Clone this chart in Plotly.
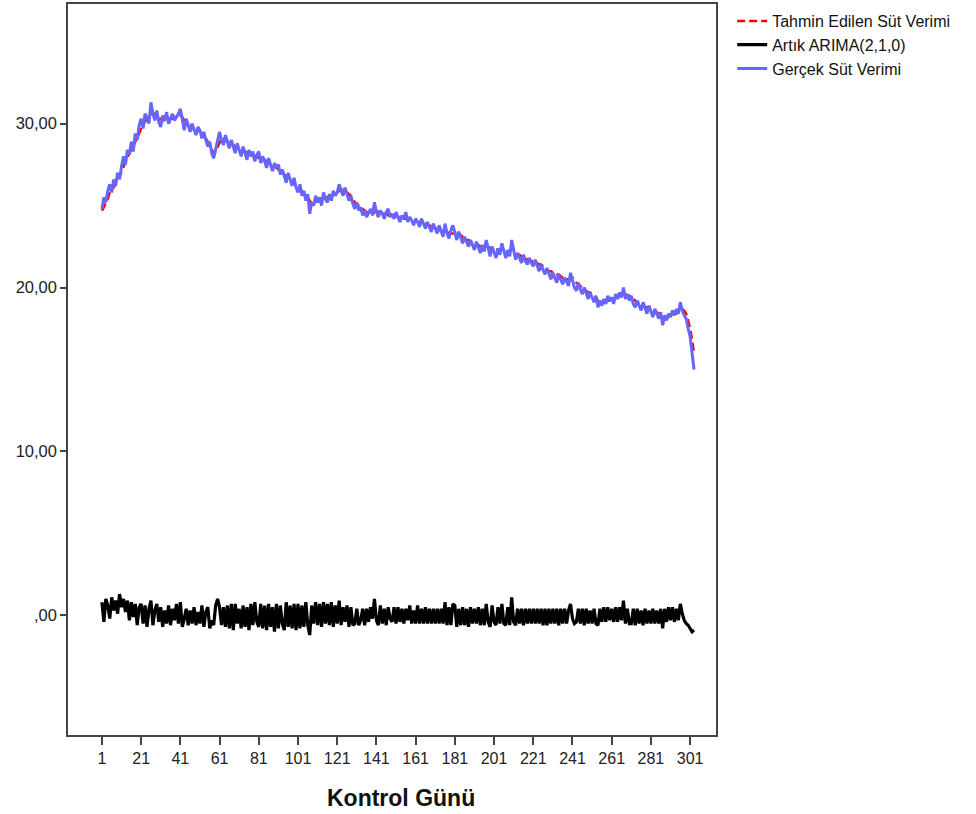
import plotly.graph_objects as go

actual = [
24.8, 25.5, 25.2, 25.9, 26.3, 25.8, 26.6, 26.2, 27.0, 26.6,
27.4, 28.0, 27.5, 28.4, 28.1, 28.9, 28.3, 29.4, 29.0, 29.9,
30.3, 29.7, 30.6, 30.4, 30.0, 31.3, 30.6, 30.2, 30.8, 30.1,
29.8, 30.5, 30.2, 30.7, 30.0, 30.3, 30.6, 30.2, 30.4, 30.6,
30.9, 30.1, 29.6, 30.3, 29.9, 29.5, 30.0, 29.7, 29.3, 29.8,
29.6, 29.1, 29.5, 29.0, 28.6, 28.9, 28.2, 27.9, 28.4, 28.9,
29.5, 29.0, 28.7, 29.3, 28.9, 28.5, 29.0, 28.6, 28.2, 28.8,
28.4, 28.0, 28.6, 28.2, 27.8, 28.4, 28.0, 28.3, 27.7, 28.1,
28.3, 27.6, 28.0, 27.7, 27.3, 27.9, 27.5, 27.1, 27.6, 27.3,
27.5, 26.9, 27.2, 26.8, 26.4, 27.0, 26.6, 26.2, 26.7, 26.1,
25.8, 26.3, 25.6, 25.9, 25.3, 25.7, 24.5, 25.2, 25.0, 25.6,
25.2, 25.5, 25.0, 25.8, 25.4, 25.2, 25.7, 25.3, 25.9, 25.6,
25.8, 26.3, 25.9, 25.6, 26.1, 25.7, 25.3, 25.6, 25.1, 24.8,
25.2, 24.7, 24.9, 24.4, 24.7, 24.3, 24.6, 24.8, 24.4, 25.2,
24.6, 24.3, 24.7, 24.5, 24.2, 24.6, 24.8, 24.3, 24.5, 24.2,
24.6, 24.3, 24.0, 24.4, 24.2, 24.6, 24.0, 24.3, 24.1, 23.8,
24.2, 24.0, 23.7, 24.2, 23.9, 23.6, 24.0, 23.7, 23.4, 23.9,
23.6, 23.3, 23.8, 23.4, 23.1, 23.9, 23.3, 23.0, 23.5, 23.8,
23.3, 22.9, 23.4, 23.0, 22.7, 23.1, 22.8, 22.5, 22.9, 22.6,
22.3, 22.8, 22.4, 22.1, 22.6, 22.2, 22.9, 22.4, 21.9, 22.5,
22.2, 21.8, 22.4, 22.0, 22.7, 22.2, 21.8, 22.3, 21.9, 22.9,
22.2, 21.7, 22.1, 21.8, 21.5, 22.0, 21.6, 21.4, 21.8, 21.5,
21.3, 21.7, 21.4, 21.0, 21.4, 21.1, 20.8, 21.2, 20.8, 20.5,
20.9, 20.6, 20.3, 20.8, 20.5, 20.2, 20.6, 20.3, 20.1, 20.9,
20.4, 20.0, 19.8, 20.3, 19.9, 19.6, 20.0, 19.6, 19.3, 19.7,
19.4, 19.1, 19.5, 18.8, 19.2, 18.9, 19.3, 19.0, 19.5, 19.2,
19.4, 19.0, 19.6, 19.3, 19.7, 19.4, 20.0, 19.3, 19.6, 19.2,
19.5, 19.0, 18.8, 19.2, 18.9, 18.6, 19.1, 18.7, 18.4, 18.9,
18.5, 18.2, 18.7, 18.4, 18.1, 18.5, 17.7, 18.3, 18.0, 18.4,
18.2, 18.6, 18.3, 18.7, 18.4, 19.1, 18.6, 18.3, 18.1, 17.5,
17.0, 16.0, 15.0,
]

predicted = [
24.7, 24.9, 25.2, 25.4, 25.8, 26.0, 26.1, 26.4, 26.6, 26.8,
27.1, 27.4, 27.7, 27.9, 28.2, 28.4, 28.6, 28.9, 29.1, 29.4,
29.7, 30.0, 30.1, 30.3, 30.4, 30.6, 30.7, 30.5, 30.4, 30.3,
30.3, 30.2, 30.2, 30.3, 30.3, 30.3, 30.3, 30.4, 30.4, 30.5,
30.5, 30.4, 30.2, 30.0, 29.9, 29.8, 29.7, 29.7, 29.6, 29.6,
29.5, 29.4, 29.3, 29.1, 28.9, 28.7, 28.4, 28.2, 28.3, 28.6,
28.9, 29.1, 29.1, 29.0, 28.9, 28.8, 28.8, 28.7, 28.6, 28.5,
28.5, 28.4, 28.3, 28.3, 28.2, 28.1, 28.1, 28.0, 28.0, 28.0,
27.9, 27.9, 27.8, 27.8, 27.7, 27.6, 27.6, 27.5, 27.4, 27.3,
27.2, 27.2, 27.1, 26.9, 26.8, 26.7, 26.6, 26.5, 26.4, 26.2,
26.1, 26.0, 25.9, 25.7, 25.6, 25.5, 25.3, 25.1, 25.1, 25.2,
25.3, 25.3, 25.4, 25.4, 25.5, 25.5, 25.6, 25.6, 25.7, 25.7,
25.8, 25.9, 26.0, 26.0, 25.9, 25.8, 25.7, 25.6, 25.4, 25.2,
25.1, 25.0, 24.9, 24.8, 24.7, 24.6, 24.6, 24.5, 24.5, 24.6,
24.7, 24.6, 24.5, 24.5, 24.5, 24.5, 24.4, 24.5, 24.4, 24.4,
24.4, 24.3, 24.3, 24.3, 24.2, 24.2, 24.2, 24.2, 24.2, 24.1,
24.1, 24.0, 24.0, 24.0, 23.9, 23.9, 23.8, 23.8, 23.7, 23.7,
23.6, 23.6, 23.5, 23.5, 23.4, 23.4, 23.4, 23.3, 23.3, 23.3,
23.4, 23.4, 23.3, 23.2, 23.1, 23.0, 22.9, 22.9, 22.8, 22.7,
22.7, 22.6, 22.6, 22.5, 22.5, 22.4, 22.5, 22.5, 22.4, 22.3,
22.4, 22.3, 22.3, 22.3, 22.3, 22.4, 22.3, 22.2, 22.2, 22.3,
22.3, 22.2, 22.0, 22.0, 21.9, 21.9, 21.8, 21.7, 21.7, 21.6,
21.6, 21.5, 21.5, 21.4, 21.4, 21.3, 21.2, 21.1, 21.0, 21.0,
20.9, 20.9, 20.8, 20.8, 20.7, 20.6, 20.6, 20.5, 20.5, 20.6,
20.6, 20.5, 20.3, 20.2, 20.1, 20.0, 19.9, 19.8, 19.7, 19.7,
19.6, 19.5, 19.4, 19.2, 19.1, 19.0, 19.1, 19.1, 19.2, 19.2,
19.3, 19.3, 19.4, 19.4, 19.5, 19.5, 19.6, 19.6, 19.5, 19.5,
19.4, 19.3, 19.2, 19.1, 19.0, 19.0, 18.9, 18.8, 18.8, 18.7,
18.6, 18.6, 18.5, 18.5, 18.4, 18.4, 18.2, 18.1, 18.1, 18.2,
18.3, 18.3, 18.4, 18.4, 18.5, 18.6, 18.7, 18.6, 18.4, 18.0,
17.5, 16.8, 16.0,
]

residual = [
0.8, -0.4, 1.0, 0.6, -0.2, 1.1, 0.3, 0.9, 0.1, 1.3,
0.5, 1.0, 0.2, 0.9, -0.3, 0.8, -0.1, 0.7, -0.6, 0.5,
0.7, -0.5, 0.6, -0.7, 0.4, 0.9, -0.6, 0.3, 0.7, -0.4,
0.5, -0.7, 0.3, -0.5, 0.6, -0.6, 0.4, -0.3, 0.7, -0.5,
0.8, -0.7, -0.2, 0.4, -0.6, 0.3, -0.5, 0.5, -0.6, 0.2,
-0.5, 0.6, -0.7, 0.2, 0.5, -0.8, -0.3, -0.6, 0.6, 1.0,
0.5, -0.6, 0.5, -0.7, 0.6, -0.8, 0.7, -0.9, 0.7, -0.5,
0.4, -0.8, 0.6, -0.7, 0.5, -0.9, 0.7, -0.6, 0.8, -0.4,
-0.7, 0.7, -0.8, 0.6, -0.9, 0.7, -0.7, 0.5, -1.0, 0.7,
-0.8, 0.6, -0.5, -0.9, 0.8, -0.7, 0.6, -0.8, 0.7, -0.9,
0.7, -0.8, 0.6, -0.7, 0.8, -0.6, -1.2, 0.6, -0.5, 0.8,
-0.6, 0.7, -0.7, 0.8, -0.5, 0.7, -0.6, 0.8, -0.7, 0.6,
-0.5, 0.9, -0.6, 0.5, -0.4, 0.6, -0.7, 0.5, -0.6, -0.5,
0.4, -0.6, -0.3, 0.4, -0.6, 0.4, -0.4, 0.5, -0.2, 1.0,
-0.3, -0.6, 0.6, -0.5, 0.4, -0.6, 0.5, -0.2, -0.4, 0.5,
-0.5, 0.5, -0.4, 0.4, -0.5, 0.4, -0.3, 0.6, -0.5, 0.3,
-0.5, 0.6, -0.5, 0.4, -0.5, 0.5, -0.5, 0.4, -0.5, 0.4,
-0.5, 0.4, -0.5, 0.4, -0.5, 0.8, -0.6, 0.5, -0.6, 0.7,
0.6, -0.7, 0.4, -0.6, 0.5, -0.6, 0.4, -0.7, 0.5, -0.5,
0.4, -0.5, 0.5, -0.6, 0.4, -0.6, 0.7, -0.4, -0.7, 0.6,
-0.4, -0.6, 0.5, -0.5, 0.7, -0.5, -0.6, 0.5, -0.6, 1.1,
-0.4, -0.6, 0.4, -0.5, 0.4, -0.6, 0.4, -0.5, 0.4, -0.5,
0.4, -0.5, 0.4, -0.5, 0.4, -0.6, 0.4, -0.6, 0.4, -0.5,
0.4, -0.5, 0.4, -0.6, 0.4, -0.5, 0.4, -0.5, 0.3, 0.7,
-0.2, -0.5, -0.4, 0.4, -0.5, 0.4, -0.6, 0.4, -0.5, 0.3,
-0.5, 0.4, -0.5, -0.6, 0.4, -0.4, 0.5, -0.4, 0.5, -0.3,
0.4, -0.4, 0.5, -0.4, 0.5, -0.3, 0.9, -0.5, 0.4, -0.5,
-0.5, 0.4, -0.6, 0.4, -0.5, 0.3, -0.6, 0.4, -0.5, 0.3,
-0.5, 0.4, -0.5, 0.3, -0.5, 0.4, -0.8, 0.4, -0.4, 0.5,
-0.3, 0.5, -0.4, 0.4, -0.3, 0.7, 0.1, -0.3, -0.5, -0.6,
-0.8, -1.0, -0.9,
]

days = list(range(1, len(actual) + 1))

x_tick_vals = list(range(1, 302, 20))
x_tick_text = [str(v) for v in x_tick_vals]
y_tick_vals = [0, 10, 20, 30]
y_tick_text = [",00", "10,00", "20,00", "30,00"]
x_title = "<b>Kontrol Günü</b>"

font_family = "Liberation Sans, Arial, sans-serif"

fig = go.Figure()
fig.add_trace(go.Scatter(
    x=days, y=predicted, mode="lines", name="Tahmin Edilen Süt Verimi",
    line=dict(color="#ff0000", width=2.5, dash="8px,4px"), legendrank=1,
))
fig.add_trace(go.Scatter(
    x=days, y=residual, mode="lines", name="Artık ARIMA(2,1,0)",
    line=dict(color="#000000", width=3.2), legendrank=2,
))
fig.add_trace(go.Scatter(
    x=days, y=actual, mode="lines", name="Gerçek Süt Verimi",
    line=dict(color="#6666ff", width=3), legendrank=3,
))

fig.add_annotation(
    text=x_title, xref="paper", yref="paper", x=0.514, y=-0.086,
    xanchor="center", yanchor="middle", showarrow=False,
    font=dict(family=font_family, size=23, color="#111111"),
)

fig.update_layout(
    width=976, height=814,
    margin=dict(l=68, r=260, t=2, b=79),
    paper_bgcolor="white", plot_bgcolor="white",
    font=dict(family=font_family, size=16, color="#222222"),
    showlegend=True,
    legend=dict(
        x=1.025, y=1.0, xanchor="left", yanchor="top",
        font=dict(family=font_family, size=16, color="#111111"),
        bgcolor="rgba(0,0,0,0)", tracegroupgap=0, itemwidth=30,
    ),
    xaxis=dict(
        range=[-16.3, 314.2], tickmode="array", tickvals=x_tick_vals, ticktext=x_tick_text,
        showgrid=False, zeroline=False, showline=True, linecolor="#444444", linewidth=1.5,
        mirror=True, ticks="outside", ticklen=8, tickwidth=1.5, tickcolor="#444444",
        tickfont=dict(size=16, color="#222222"),
    ),
    yaxis=dict(
        range=[-7.3, 37.3], tickmode="array", tickvals=y_tick_vals, ticktext=y_tick_text,
        showgrid=False, zeroline=False, showline=True, linecolor="#444444", linewidth=1.5,
        mirror=True, ticks="outside", ticklen=6, tickwidth=1.5, tickcolor="#444444",
        tickfont=dict(size=16.5, color="#222222"),
    ),
)

fig.write_html("out.html")
